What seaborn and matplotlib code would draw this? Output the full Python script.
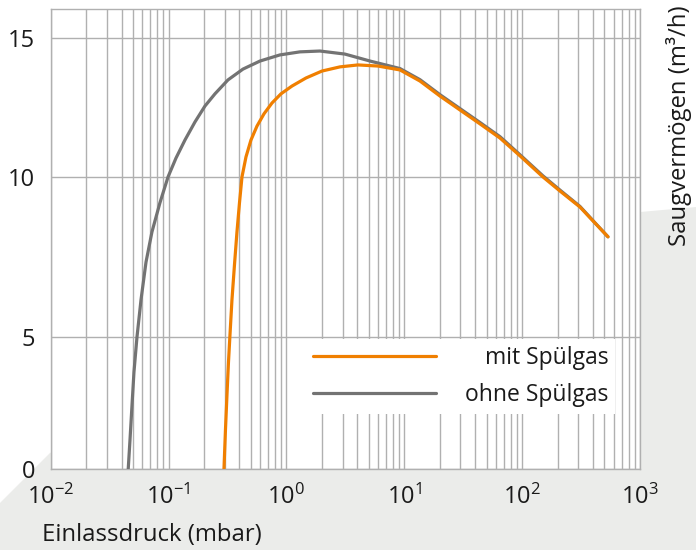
import numpy as np
import pandas as pd
import seaborn as sns
from matplotlib import pyplot as plt
from matplotlib.patches import Polygon
from matplotlib.ticker import LogLocator, NullFormatter

# Saugvermögen ueber Einlassdruck
p_mit = [0.2954, 0.3041, 0.3132, 0.3226, 0.3321, 0.3453, 0.3626, 0.3807,
         0.3999, 0.4199, 0.4540, 0.5006, 0.5630, 0.6452, 0.7546, 0.8995,
         1.115, 1.466, 2.004, 2.849, 4.049, 5.984, 9.199, 13.60, 20.10,
         29.70, 43.90, 64.90, 95.9, 150.3, 209.6, 309.7, 415.2, 535.3]
s_mit = [0.0, 1.48, 2.80, 4.05, 5.06, 6.16, 7.25, 8.28,
         9.19, 10.0, 10.72, 11.33, 11.83, 12.27, 12.66, 12.99,
         13.27, 13.56, 13.81, 13.96, 14.03, 13.99, 13.85, 13.45, 12.91,
         12.41, 11.91, 11.40, 10.76, 10.0, 9.56, 9.06, 8.56, 8.13]

p_ohne = [0.0455, 0.0471, 0.0490, 0.0509, 0.0540, 0.0584, 0.0644, 0.0723,
          0.0845, 0.0990, 0.1157, 0.1379, 0.1677, 0.2037, 0.2477, 0.3192,
          0.4281, 0.5970, 0.8810, 1.303, 1.927, 3.14, 5.12, 9.20, 13.60,
          20.10, 29.70, 43.90, 64.90, 95.9, 150.3, 209.6, 309.7, 415.2, 535.3]
s_ohne = [0.0, 1.10, 2.42, 3.67, 5.0, 6.16, 7.34, 8.28,
          9.19, 10.0, 10.68, 11.33, 11.98, 12.55, 12.99, 13.49,
          13.88, 14.17, 14.39, 14.50, 14.53, 14.42, 14.17, 13.90, 13.50,
          12.96, 12.46, 11.96, 11.45, 10.80, 10.04, 9.59, 9.08, 8.57, 8.13]

labels = ["mit Spülgas", "ohne Spülgas"]
y_ticks = [0, 5, 10, 15]
x_ticks = [1e-2, 1e-1, 1e0, 1e1, 1e2, 1e3]

ORANGE = "#f07f00"
GREY = "#737373"
GRID = "#b0b0b0"
BG = "#ebecea"

# die y-Achse im Original ist nicht ganz gleichmaessig geteilt
y_val = [0, 5, 10, 15, 16.03]
y_pix = [0, 132, 292, 431, 459.5]


def fwd(v):
    return np.interp(v, y_val, y_pix)


def inv(p):
    return np.interp(p, y_pix, y_val)


sns.set_style("white")
plt.rcParams["font.family"] = ["Open Sans", "DejaVu Sans"]
plt.rcParams["text.color"] = "#1a1a1a"

fig = plt.figure(figsize=(6.96, 5.5), dpi=100)

# grauer Hintergrund (unten links und rechts)
bg = Polygon([(0, 0), (0, 0.0855), (0.0718, 0.1764), (0.9195, 0.6145),
              (1, 0.6236), (1, 0)], closed=True, transform=fig.transFigure,
             facecolor=BG, edgecolor="none", zorder=-5)
fig.add_artist(bg)

ax = fig.add_axes([0.0728, 0.1473, 0.8467, 0.8355])
ax.set_zorder(1)
ax.set_facecolor("white")

df_mit = pd.DataFrame({"p": p_mit, "s": s_mit})
df_ohne = pd.DataFrame({"p": p_ohne, "s": s_ohne})

sns.lineplot(data=df_ohne, x="p", y="s", ax=ax, color=GREY, lw=2.3, zorder=3)
sns.lineplot(data=df_mit, x="p", y="s", ax=ax, color=ORANGE, lw=2.3, zorder=4)

ax.set_xscale("log")
ax.set_yscale("function", functions=(fwd, inv))
ax.set_xlim(1e-2, 1e3)
ax.set_ylim(0, 16.03)
ax.set_xticks(x_ticks)
ax.xaxis.set_minor_locator(LogLocator(base=10, subs=np.arange(2, 10)))
ax.xaxis.set_minor_formatter(NullFormatter())
ax.set_yticks(y_ticks)
ax.set_yticklabels([str(t) for t in y_ticks])
ax.tick_params(which="both", length=0, labelsize=17, colors="#1a1a1a")
ax.tick_params(axis="x", pad=11)
ax.tick_params(axis="y", pad=11)

ax.grid(which="both", axis="x", color=GRID, lw=1.0)
ax.grid(which="major", axis="y", color=GRID, lw=1.0)
for sp in ax.spines.values():
    sp.set_color(GRID)
    sp.set_linewidth(1.0)

ax.set_xlabel("")
ax.set_ylabel("")

fig.text(0.060, 0.027, "Einlassdruck (mbar)", fontsize=17.2, ha="left", va="center")
fig.text(0.975, 0.99, "Saugvermögen (m³/h)", fontsize=17.2, rotation=90,
         ha="center", va="top")

lines = ax.get_lines()
leg = ax.legend([lines[1], lines[0]], labels, loc="lower right",
                bbox_to_anchor=(0.958, 0.12), borderaxespad=0, borderpad=0.3,
                fontsize=16.5, handlelength=5.4, handletextpad=1.25,
                labelspacing=0.55, frameon=True, fancybox=False,
                framealpha=1, edgecolor="none", facecolor="white")
for h in leg.legend_handles:
    h.set_linewidth(2.3)

# Legendentexte rechtsbuendig ausrichten
fig.canvas.draw()
texts = leg.get_texts()
right = [t.get_window_extent().x1 for t in texts]
for t, r in zip(texts, right):
    t.set_x(max(right) - r)

fig.savefig("out.png", dpi=100)
